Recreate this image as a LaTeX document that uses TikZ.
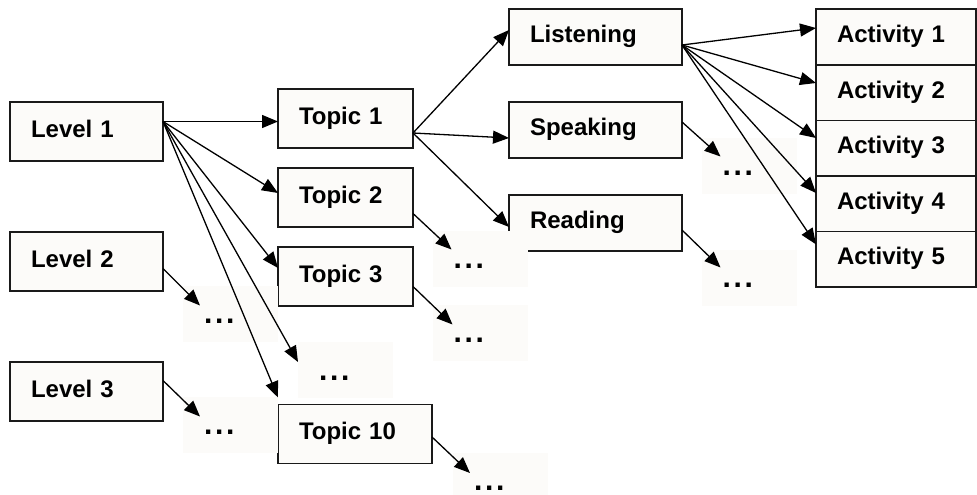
\documentclass[tikz,border=0pt]{standalone}
\usepackage{fontspec}
\setmainfont{Liberation Sans}
\usepackage{tikz}
\usetikzlibrary{arrows.meta,positioning}
\usepackage{xcolor}
\definecolor{boxfill}{RGB}{252,251,249}
\definecolor{boxline}{RGB}{26,26,26}
\tikzstyle{arrow} = [line width=1.3pt,-{Triangle[length=16pt,width=13pt]},color=black]
\tikzstyle{treebox} = [rectangle, draw=boxline, fill=boxfill, line width=1.6pt, outer sep=0pt, inner xsep=21pt, align=left, text height=11pt, text depth=0pt, font=\fontsize{24}{28}\selectfont\bfseries]
\tikzstyle{levelbox} = [treebox, text width=111pt, minimum height=59pt]
\tikzstyle{topicbox} = [treebox, text width=93pt, minimum height=59pt]
\tikzstyle{skillbox} = [treebox, text width=131pt, minimum height=56pt]
\tikzstyle{activitybox} = [treebox, text width=118pt, minimum height=55.6pt]
\tikzstyle{dotsbox} = [rectangle, fill=boxfill, outer sep=0pt, minimum width=95pt, minimum height=56pt, text width=53pt, inner xsep=21pt, align=left, text height=20pt, text depth=0pt, font=\fontsize{30}{34}\selectfont\bfseries]
\newcommand{\moredots}{.\kern2.7pt.\kern2.7pt.}

\begin{document}
\begin{tikzpicture}[x=1pt,y=-1pt]
\useasboundingbox (0,0) rectangle (977,495);
% Levels
\node (lvlone) [levelbox] at (86.5,131.5) {Level 1};
\node (lvltwo) [levelbox, below=71pt of lvlone] {Level 2};
\node (lvlthree) [levelbox, below=71pt of lvltwo] {Level 3};

% Topics
\node (topone) [topicbox] at (345.5,118.5) {Topic 1};
\node (toptwo) [topicbox, below=20pt of topone] {Topic 2};
\node (topthree) [topicbox, below=20pt of toptwo] {Topic 3};
\node (topten) [topicbox, text width=112pt] at (355,434) {Topic 10};

% Skills
\node (listening) [skillbox] at (595.5,37) {Listening};
\node (speaking) [skillbox, below=37pt of listening] {Speaking};
\node (reading) [skillbox, below=37pt of speaking] {Reading};

% Activities
\node (actone) [activitybox] at (896,37) {Activity 1};
\node (acttwo) [activitybox, below=0pt of actone] {Activity 2};
\node (actthree) [activitybox, below=0pt of acttwo] {Activity 3};
\node (actfour) [activitybox, below=0pt of actthree] {Activity 4};
\node (actfive) [activitybox, below=0pt of actfour] {Activity 5};

% Omitted branches
\node (dlvltwo) [dotsbox] at (230.5,313.5) {\moredots};
\node (dlvlthree) [dotsbox] at (230.5,424.5) {\moredots};
\node (dtopics) [dotsbox] at (345.5,370) {\moredots};
\node (dtoptwo) [dotsbox] at (480,258.5) {\moredots};
\node (dtopthree) [dotsbox] at (480,332.5) {\moredots};
\node (dtopten) [dotsbox, minimum height=42pt, text height=32pt] at (500.5,474) {\moredots};
\node (dspeaking) [dotsbox] at (749,165.5) {\moredots};
\node (dreading) [dotsbox] at (749,277.5) {\moredots};

% Level 1 to topics
\draw[arrow] ([yshift=10pt]lvlone.east) -- ([yshift=-3pt]topone.west);
\draw[arrow] ([yshift=10pt]lvlone.east) -- ([yshift=4.5pt]toptwo.west);
\draw[arrow] ([yshift=10pt]lvlone.east) -- ([yshift=8.5pt]topthree.west);
\draw[arrow] ([yshift=10pt]lvlone.east) -- ([yshift=8pt]dtopics.west);
\draw[arrow] ([yshift=10pt]lvlone.east) -- ([yshift=7pt]topten.north west);
\draw[arrow] ([yshift=-7pt]lvltwo.east) -- ([xshift=17pt,yshift=-20pt]dlvltwo.north west);
\draw[arrow] ([yshift=11pt]lvlthree.east) -- ([xshift=17pt,yshift=-20pt]dlvlthree.north west);

% Topics to skills
\draw[arrow] ([yshift=-14.5pt]topone.east) -- ([yshift=7pt]listening.west);
\draw[arrow] ([yshift=-14.5pt]topone.east) -- ([yshift=-8pt]speaking.west);
\draw[arrow] ([yshift=-14.5pt]topone.east) -- ([yshift=-4pt]reading.west);
\draw[arrow] ([yshift=-16pt]toptwo.east) -- ([xshift=19pt,yshift=-19pt]dtoptwo.north west);
\draw[arrow] ([yshift=-10pt]topthree.east) -- ([xshift=20pt,yshift=-20pt]dtopthree.north west);
\draw[arrow] ([yshift=-3pt]topten.east) -- ([xshift=17pt,yshift=-20pt]dtopten.north west);

% Skills to activities
\draw[arrow] ([yshift=-8pt]listening.east) -- ([yshift=9pt]actone.west);
\draw[arrow] ([yshift=-8pt]listening.east) -- ([yshift=9.6pt]acttwo.west);
\draw[arrow] ([yshift=-8pt]listening.east) -- ([yshift=10.2pt]actthree.west);
\draw[arrow] ([yshift=-8pt]listening.east) -- ([yshift=10.8pt]actfour.west);
\draw[arrow] ([yshift=-8pt]listening.east) -- ([yshift=15pt]actfive.west);
\draw[arrow] ([yshift=8pt]speaking.east) -- ([xshift=19pt,yshift=-19pt]dspeaking.north west);
\draw[arrow] ([yshift=-7pt]reading.east) -- ([xshift=19pt,yshift=-18pt]dreading.north west);
\end{tikzpicture}
\end{document}
